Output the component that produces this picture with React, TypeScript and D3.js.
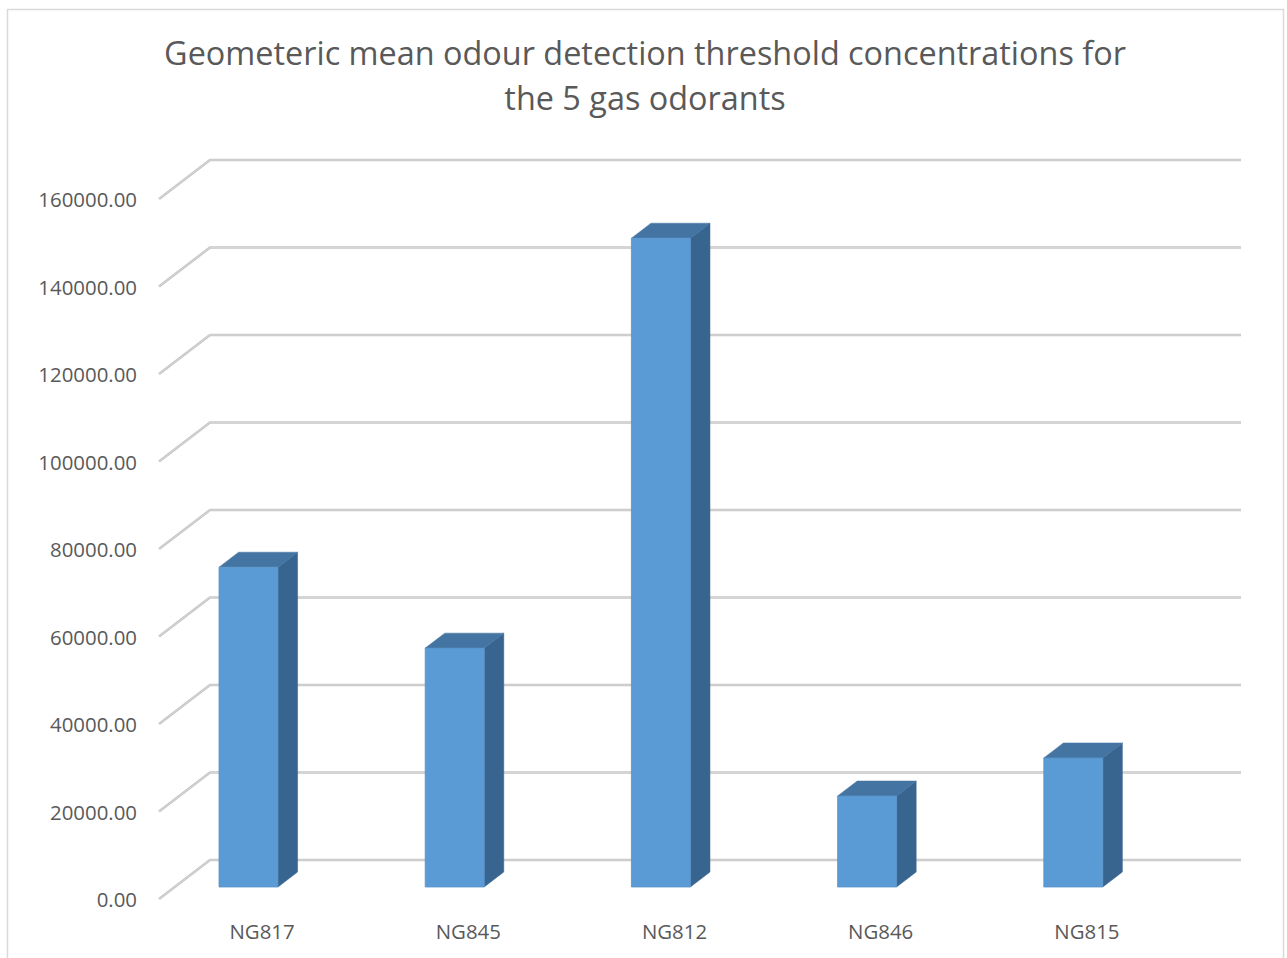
import React from "react";
import * as d3 from "d3";

const categories = ["NG817", "NG845", "NG812", "NG846", "NG815"];
const values = [73100, 54600, 148300, 20800, 29500];
const yTicks = [0, 20000, 40000, 60000, 80000, 100000, 120000, 140000, 160000];
const titleLines = [
  "Geometeric mean odour detection threshold concentrations for",
  "the 5 gas odorants",
];

const W = 1287;
const H = 958;
const FONT = "'Open Sans', 'Noto Sans', sans-serif";

export default function App() {
  const backLeft = 210;
  const backRight = 1241;
  const depthDx = -51;
  const depthDy = 39;
  const y = d3.scaleLinear().domain([0, 160000]).range([860, 160]);
  const xBand = d3.scaleBand<string>().domain(categories).range([backLeft, backRight]).padding(0);
  const barOffset = 44.3;
  const barWidth = 59;
  const dFront = 0.692;
  const dBack = 0.308;

  const P = (xb: number, v: number, d: number): [number, number] => [
    xb + depthDx * d,
    y(v) + depthDy * d,
  ];
  const poly = (pts: [number, number][]) => pts.map((p) => p.join(",")).join(" ");

  return (
    <svg
      width={W}
      height={H}
      style={{ position: "absolute", left: 0, top: 0, background: "#fff" }}
      fontFamily={FONT}
    >
      <rect x={7.5} y={9.5} width={1276} height={960} fill="#fff" stroke="#d9d9d9" strokeWidth={1.5} />
      {titleLines.map((t, i) => (
        <text key={i} x={645} y={65 + i * 45} textAnchor="middle" fontSize={32.4} fill="#595959">
          {t}
        </text>
      ))}
      {yTicks.map((t) => {
        const f = P(backLeft, t, 1);
        const b = P(backLeft, t, 0);
        const r = P(backRight, t, 0);
        return (
          <g key={t}>
            <polyline
              points={poly([f, b, r])}
              fill="none"
              stroke="#c6c6c6"
              strokeWidth={2.6}
              strokeLinejoin="round"
            />
            <polyline
              points={poly([f, b, r])}
              fill="none"
              stroke="#d9d9d9"
              strokeWidth={0.8}
              strokeLinejoin="round"
            />
            <text
              x={137}
              y={f[1]}
              textAnchor="end"
              dominantBaseline="central"
              fontSize={20.4}
              fill="#595959"
            >
              {t.toFixed(2)}
            </text>
          </g>
        );
      })}
      {categories.map((c, i) => {
        const x0 = (xBand(c) as number) + barOffset;
        const x1 = x0 + barWidth;
        const v = values[i];
        const front: [number, number][] = [P(x0, 0, dFront), P(x1, 0, dFront), P(x1, v, dFront), P(x0, v, dFront)];
        const top: [number, number][] = [P(x0, v, dFront), P(x1, v, dFront), P(x1, v, dBack), P(x0, v, dBack)];
        const side: [number, number][] = [P(x1, 0, dFront), P(x1, 0, dBack), P(x1, v, dBack), P(x1, v, dFront)];
        return (
          <g key={c}>
            <polygon points={poly(side)} fill="#386590" stroke="#386590" strokeWidth={0.5} />
            <polygon points={poly(top)} fill="#4474a2" stroke="#4474a2" strokeWidth={0.5} />
            <polygon points={poly(front)} fill="#5b9bd5" stroke="#5792c9" strokeWidth={0.8} />
          </g>
        );
      })}
      {categories.map((c) => {
        const cx = (xBand(c) as number) + xBand.bandwidth() / 2 + depthDx;
        return (
          <text key={c} x={cx} y={931} textAnchor="middle" dominantBaseline="central" fontSize={20.4} fill="#595959">
            {c}
          </text>
        );
      })}
    </svg>
  );
}
